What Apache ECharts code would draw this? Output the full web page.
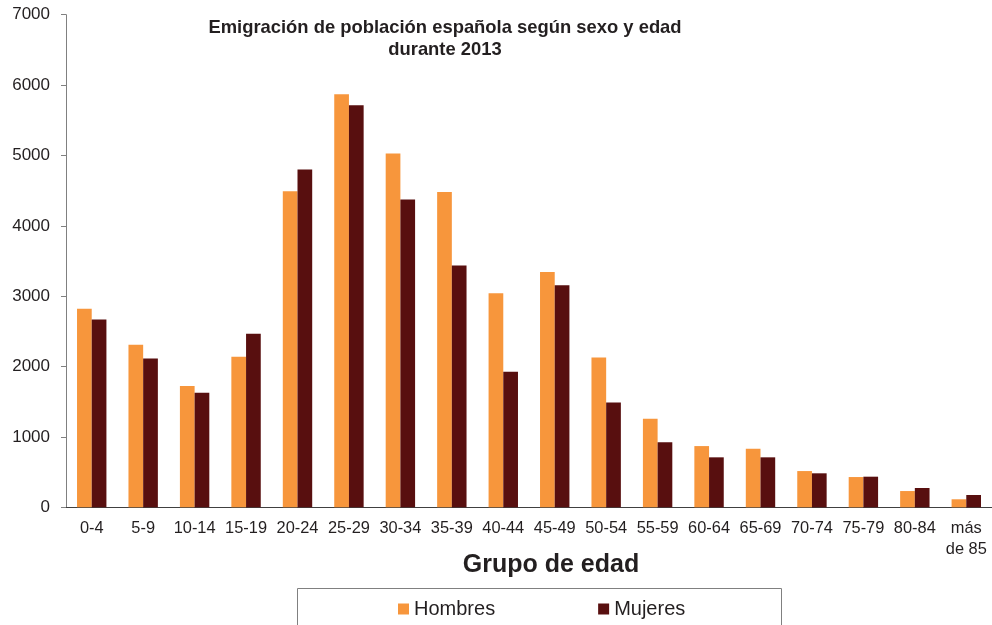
<!DOCTYPE html>
<html>
<head>
<meta charset="utf-8">
<script src="https://cdn.jsdelivr.net/npm/echarts@6/dist/echarts.min.js"></script>
<style>
  html, body { margin: 0; padding: 0; background: #fff; }
  #chart { width: 992px; height: 625px; }
</style>
</head>
<body>
<div id="chart"></div>
<script>
var grupos = ['0-4', '5-9', '10-14', '15-19', '20-24', '25-29', '30-34', '35-39', '40-44',
  '45-49', '50-54', '55-59', '60-64', '65-69', '70-74', '75-79', '80-84', 'más\nde 85'];
var hombres = [2820, 2310, 1722, 2138, 4491, 5868, 5026, 4481, 3043, 3345, 2130, 1258, 870, 832, 515, 430, 231, 114];
var mujeres = [2669, 2115, 1627, 2465, 4799, 5712, 4373, 3436, 1925, 3156, 1491, 923, 710, 710, 483, 435, 274, 175];
var yTicks = [0, 1000, 2000, 3000, 4000, 5000, 6000, 7000];

var fuente = 'Liberation Sans, Arial, sans-serif';
var chart = echarts.init(document.getElementById('chart'));

var option = {
  animation: false,
  textStyle: { fontFamily: fuente },
  title: [
    {
      text: 'Emigración de población española según sexo y edad\ndurante 2013',
      left: 440,
      top: 12,
      textAlign: 'center',
      textStyle: { fontSize: 18.4, fontWeight: 'bold', color: '#231f20', lineHeight: 22, fontFamily: fuente }
    },
    {
      text: 'Grupo de edad',
      left: 546,
      top: 548,
      textAlign: 'center',
      textStyle: { fontSize: 25, fontWeight: 'bold', color: '#231f20', fontFamily: fuente }
    }
  ],
  legend: {
    left: 398,
    top: 599,
    padding: 0,
    itemWidth: 11,
    itemHeight: 11,
    itemGap: 103,
    icon: 'rect',
    textStyle: { fontSize: 20, color: '#231f20', fontFamily: fuente },
    data: ['Hombres', 'Mujeres']
  },
  graphic: [
    {
      type: 'rect',
      shape: { x: 297.5, y: 588.5, width: 484, height: 60 },
      style: { fill: 'none', stroke: '#808080', lineWidth: 1 }
    }
  ],
  grid: { left: 66, right: -6.5, top: 14.7, bottom: 117.7, containLabel: false },
  xAxis: {
    type: 'category',
    data: grupos,
    axisLine: { lineStyle: { color: '#404040', width: 1 } },
    axisTick: { length: 5, lineStyle: { color: '#404040' } },
    axisLabel: { fontSize: 16.4, color: '#231f20', margin: 11, lineHeight: 21, interval: 0 }
  },
  yAxis: {
    type: 'value',
    min: yTicks[0],
    max: yTicks[yTicks.length - 1],
    interval: 1000,
    splitLine: { show: false },
    axisLine: { show: true, lineStyle: { color: '#808080', width: 1 } },
    axisTick: { show: true, length: 5, lineStyle: { color: '#808080' } },
    axisLabel: { fontSize: 17, color: '#231f20', margin: 16, formatter: function (v) { return String(v); } }
  },
  series: [
    {
      name: 'Hombres',
      type: 'bar',
      data: hombres,
      barWidth: 14.7,
      barGap: '0%',
      itemStyle: { color: '#F7963C' }
    },
    {
      name: 'Mujeres',
      type: 'bar',
      data: mujeres,
      barWidth: 14.7,
      barGap: '0%',
      itemStyle: { color: '#580F0F' }
    }
  ]
};

chart.setOption(option);
</script>
</body>
</html>
